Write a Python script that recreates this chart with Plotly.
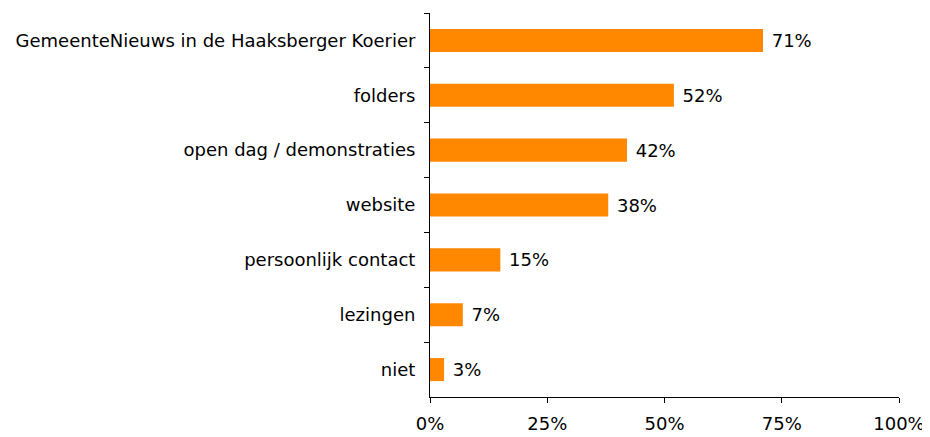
import plotly.graph_objects as go

categories = ["GemeenteNieuws in de Haaksberger Koerier", "folders", "open dag / demonstraties",
              "website", "persoonlijk contact", "lezingen", "niet"]
values = [71, 52, 42, 38, 15, 7, 3]
x_ticks = [0, 25, 50, 75, 100]
x_tick_labels = ["0%", "25%", "50%", "75%", "100%"]

FONT = "DejaVu Sans"
FS = 18

fig = go.Figure(go.Bar(
    x=values, y=categories, orientation="h",
    marker=dict(color="#FF8800", line=dict(width=0)),
    width=0.42,
    text=[f"\u00a0{v}%" for v in values], textposition="outside",
    textfont=dict(family=FONT, size=FS, color="#000000"),
    cliponaxis=False,
))

fig.update_layout(
    template="none",
    width=922, height=429,
    margin=dict(l=422, r=31, t=5, b=40),
    paper_bgcolor="white", plot_bgcolor="white",
    showlegend=False,
    font=dict(family=FONT, size=FS, color="#000000"),
    xaxis=dict(range=[0, 100], tickvals=x_ticks, ticktext=x_tick_labels, automargin=False,
               showgrid=False, zeroline=False, showline=True, linecolor="#000000", linewidth=1,
               ticks="outside", ticklen=5, tickcolor="#000000", ticklabelstandoff=5,
               tickfont=dict(family=FONT, size=FS)),
    yaxis=dict(autorange="reversed", showgrid=False, showline=True, linecolor="#000000", linewidth=1,
               ticks="outside", ticklen=5, tickcolor="#000000", tickson="boundaries", automargin=False,
               zeroline=False, tickfont=dict(family=FONT, size=FS), ticklabelstandoff=10),
)

fig.write_html("out.html")
